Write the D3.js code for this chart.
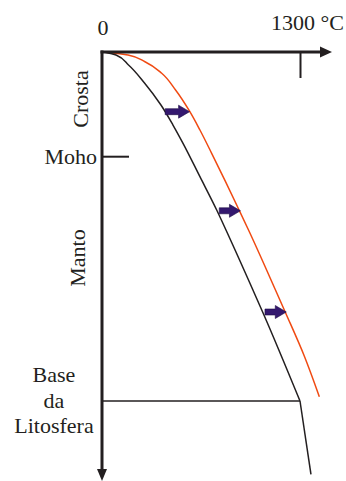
<!DOCTYPE html>
<html>
<head>
<meta charset="utf-8">
<script src="https://cdn.jsdelivr.net/npm/d3@7"></script>
<style>
  html, body { margin: 0; padding: 0; background: #ffffff; }
  svg { display: block; }
</style>
</head>
<body>
<svg id="chart" width="346" height="481"></svg>
<script>
// Temperature (°C) against depth (km) through the lithosphere.
const tempTicks = [1300];
const layerBoundaries = [30, 100];          // Moho, base of the lithosphere

// Steady-state geotherm (black)
const geothermT = [13, 92, 174, 279, 387, 466, 532, 643, 753, 814, 991, 1054, 1300];
const geothermZ = [0, 0.86, 3.72, 8.88, 15.19, 20.92, 26.16, 35.73, 45.27, 51.0, 68.19, 74.41, 100];

// Adiabat below the lithosphere (black)
const adiabatT = [1300, 1372];
const adiabatZ = [100, 121];

// Heated geotherm (red)
const heatedT = [13, 171, 282, 392, 483, 573, 643, 720, 811, 900, 962, 1139, 1202, 1330, 1427];
const heatedZ = [0, 0.86, 2.78, 6.10, 10.89, 16.82, 22.35, 29.03, 37.16, 45.27, 51.0, 68.19, 74.41, 87.31, 98.77];

// Heating arrows: depth, start and end temperature
const arrowZ = [17.1, 45.5, 74.5];
const arrowFromT = [415, 770, 1070];
const arrowToT = [575, 909, 1210];

const svg = d3.select("#chart");
const ink = "#231f20";
const serif = "'Liberation Serif', 'Times New Roman', 'DejaVu Serif', serif";

const x = d3.scaleLinear().domain([0, 1300]).range([102, 300]);
const y = d3.scaleLinear().domain([0, 100]).range([52, 401]);

const toPts = (ts, zs) => ts.map((t, i) => [x(t), y(zs[i])]);
const smooth = d3.line().curve(d3.curveMonotoneY);
const straight = d3.line();

// Base of the lithosphere
svg.append("line")
  .attr("x1", x(0)).attr("x2", x(1300))
  .attr("y1", y(layerBoundaries[1])).attr("y2", y(layerBoundaries[1]))
  .attr("stroke", ink).attr("stroke-width", 1.3);

// Moho tick
svg.append("line")
  .attr("x1", x(0)).attr("x2", x(0) + 27)
  .attr("y1", y(layerBoundaries[0])).attr("y2", y(layerBoundaries[0]))
  .attr("stroke", ink).attr("stroke-width", 2);

// Geotherms
svg.append("path")
  .attr("d", smooth(toPts(heatedT, heatedZ)))
  .attr("fill", "none").attr("stroke", "#f04a12").attr("stroke-width", 1.5);

svg.append("path")
  .attr("d", smooth(toPts(geothermT, geothermZ)))
  .attr("fill", "none").attr("stroke", ink).attr("stroke-width", 1.5);

svg.append("path")
  .attr("d", straight(toPts(adiabatT, adiabatZ)))
  .attr("fill", "none").attr("stroke", ink).attr("stroke-width", 1.5);

// Heating arrows
arrowZ.forEach((z, i) => {
  const x0 = x(arrowFromT[i]), x1 = x(arrowToT[i]), yy = y(z);
  const head = 11, hh = 6.5, sh = 3;
  const pts = [
    [x0, yy - sh], [x1 - head, yy - sh], [x1 - head, yy - hh], [x1, yy],
    [x1 - head, yy + hh], [x1 - head, yy + sh], [x0, yy + sh]
  ];
  svg.append("path")
    .attr("d", straight(pts) + "Z")
    .attr("fill", "#34186f").attr("stroke", "#1c0c45").attr("stroke-width", 0.6);
});

// Temperature axis with the 1300 °C tick
const topAxis = d3.axisTop(x).tickValues(tempTicks).tickSize(-26).tickFormat("");
const gTop = svg.append("g").attr("transform", `translate(0,${y(0)})`).call(topAxis);
gTop.select(".domain").remove();
gTop.selectAll(".tick line").attr("stroke", ink).attr("stroke-width", 2);

const axisW = 3;
svg.append("line")
  .attr("x1", x(0) - axisW / 2).attr("x2", 322)
  .attr("y1", y(0)).attr("y2", y(0))
  .attr("stroke", ink).attr("stroke-width", axisW);
svg.append("path")
  .attr("d", straight([[320, y(0) - 5.5], [332, y(0)], [320, y(0) + 5.5]]) + "Z")
  .attr("fill", ink);

// Depth axis
svg.append("line")
  .attr("x1", x(0)).attr("x2", x(0))
  .attr("y1", y(0) - axisW / 2).attr("y2", 472)
  .attr("stroke", ink).attr("stroke-width", axisW);
svg.append("path")
  .attr("d", straight([[x(0) - 5, 469], [x(0), 481], [x(0) + 5, 469]]) + "Z")
  .attr("fill", ink);

// Labels
const fs = 22;
const label = sel => sel.attr("font-family", serif).attr("font-size", fs).attr("fill", ink);

svg.append("text").call(label).attr("x", x(0) + 1).attr("y", 35)
  .attr("text-anchor", "middle").text("0");
svg.append("text").call(label).attr("x", 271).attr("y", 30)
  .text("1300 °C");

svg.append("text").call(label).attr("transform", "translate(88,99) rotate(-90)")
  .attr("text-anchor", "middle").text("Crosta");
svg.append("text").call(label).attr("x", 97).attr("y", y(layerBoundaries[0]) + 7)
  .attr("text-anchor", "end").text("Moho");
svg.append("text").call(label).attr("transform", "translate(85,258) rotate(-90)")
  .attr("text-anchor", "middle").text("Manto");

const baseLines = ["Base", "da", "Litosfera"];
svg.append("text").call(label).attr("text-anchor", "middle")
  .selectAll("tspan").data(baseLines).join("tspan")
  .attr("x", 54).attr("y", (d, i) => 382 + i * 25.5)
  .text(d => d);
</script>
</body>
</html>
